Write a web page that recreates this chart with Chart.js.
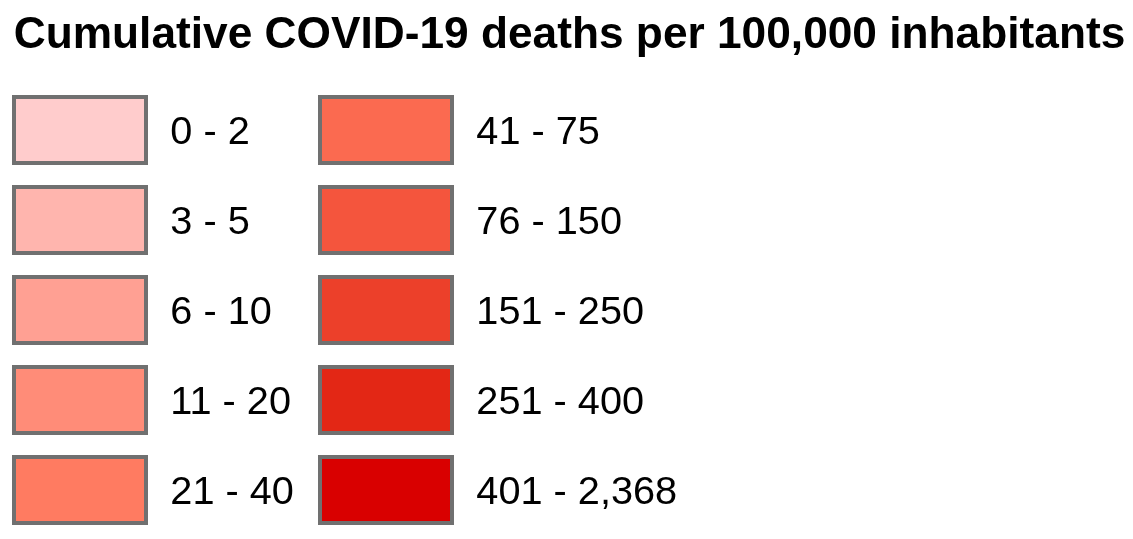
<!DOCTYPE html>
<html><head><meta charset="utf-8">
<style>html,body{margin:0;padding:0;background:#fff}#w{position:relative;width:1133px;height:539px}</style>
<script src="https://cdn.jsdelivr.net/npm/chart.js@4"></script></head>
<body><div id="w"><canvas id="c"></canvas></div>
<script>
const titleText = 'Cumulative COVID-19 deaths per 100,000 inhabitants';
const classLabels = ['0 - 2','3 - 5','6 - 10','11 - 20','21 - 40','41 - 75','76 - 150','151 - 250','251 - 400','401 - 2,368'];
const classColors = ['#ffcccc','#ffb5ae','#ffa093','#ff8c78','#ff7b61','#fb6a50','#f4553d','#ec402a','#e32715','#d90000'];
const borderColor = '#707070';
Chart.defaults.font.family = '"Liberation Sans", Arial, sans-serif';
const legendPlacement = {
  id:'legendPlacement',
  beforeDraw(chart){
    const lg = chart.legend;
    lg.left = -10;
    lg.top = 73;
    lg.bottom = 600;
    if(lg.columnSizes && lg.columnSizes[0]) lg.columnSizes[0].width = 282;
    if(!lg._nudged){
      lg._nudged = true;
      const orig = lg._draw;
      lg._draw = function(){
        const ctx = this.ctx, ft = ctx.fillText;
        ctx.fillText = function(t,x,y,m){ ft.call(ctx,t,x+4.5,y+3.5); };
        orig.call(this);
        delete ctx.fillText;
      };
    }
  }
};
new Chart(document.getElementById('c'), {
  type: 'bar',
  data: { labels: [], datasets: classLabels.map((l,i)=>({label:l,data:[],backgroundColor:classColors[i],borderColor:borderColor,borderWidth:4})) },
  options: {
    responsive:true, maintainAspectRatio:false, animation:false, devicePixelRatio:1,
    layout:{padding:{left:6,right:0,top:9,bottom:0}},
    scales:{x:{display:false},y:{display:false}},
    plugins:{
      tooltip:{enabled:false},
      title:{display:true,text:titleText,align:'center',color:'#000',font:{size:44.25,weight:'bold'},padding:{top:0,bottom:0}},
      legend:{display:true,position:'chartArea',align:'start',
        labels:{boxWidth:132,boxHeight:66,padding:24,color:'#000',font:{size:39.7}}}
    }
  },
  plugins:[legendPlacement]
});
</script></body></html>
